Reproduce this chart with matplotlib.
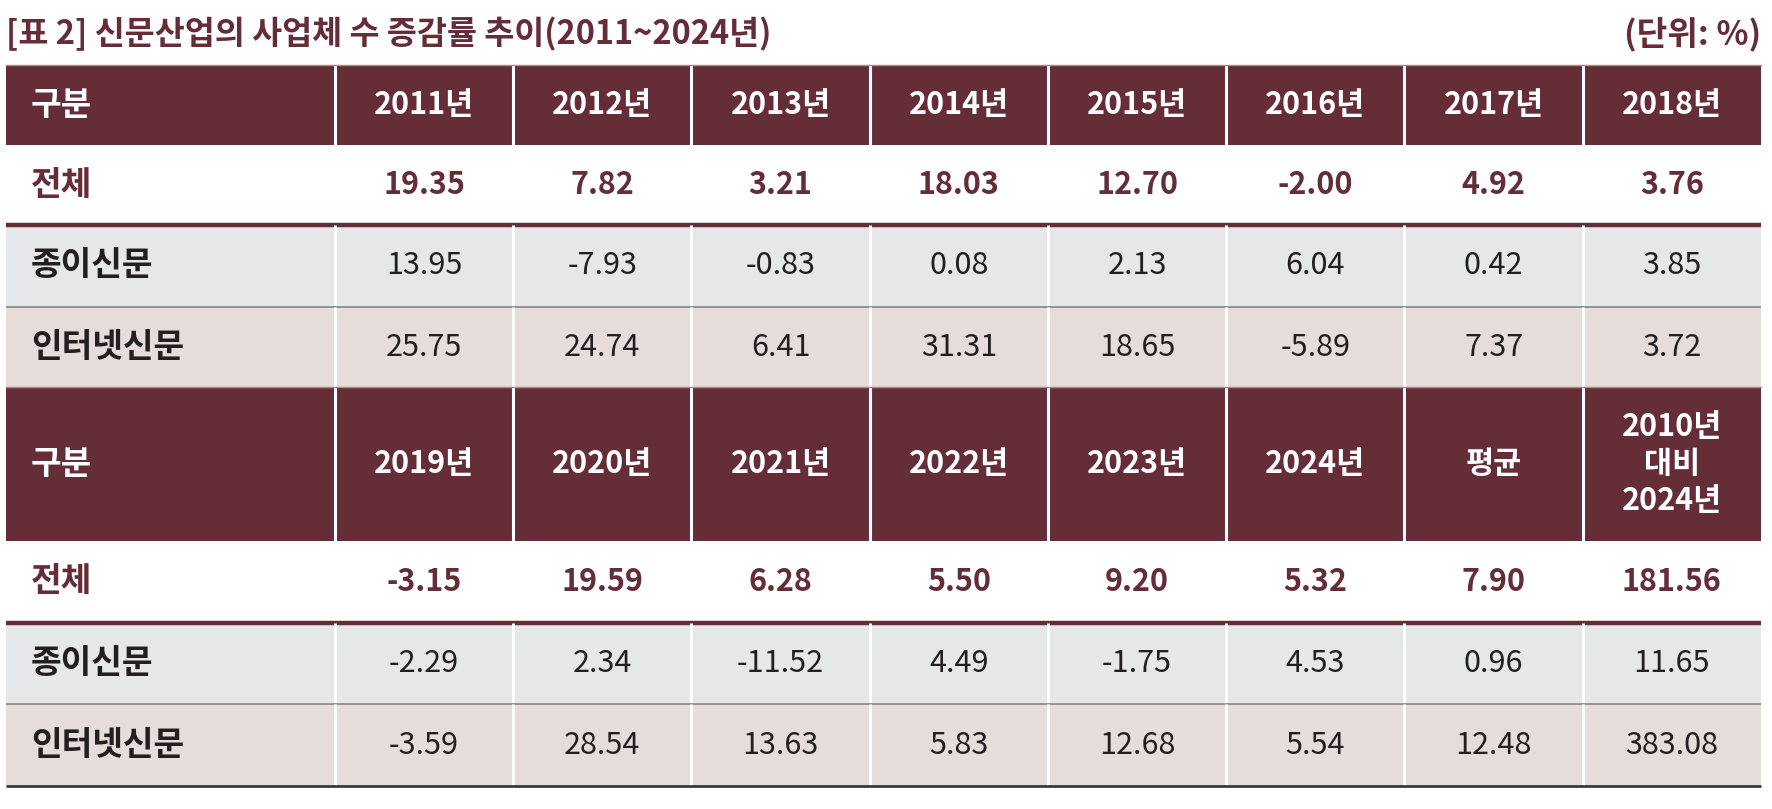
import matplotlib.pyplot as plt
from matplotlib.patches import Rectangle

plt.rcParams['font.family'] = ['Noto Sans CJK KR', 'DejaVu Sans']

title = "[표 2] 신문산업의 사업체 수 증감률 추이(2011~2024년)"
unit = "(단위: %)"
row_labels = ["전체", "종이신문", "인터넷신문"]

years1 = ["2011년", "2012년", "2013년", "2014년", "2015년", "2016년", "2017년", "2018년"]
total1 = [19.35, 7.82, 3.21, 18.03, 12.70, -2.00, 4.92, 3.76]
paper1 = [13.95, -7.93, -0.83, 0.08, 2.13, 6.04, 0.42, 3.85]
internet1 = [25.75, 24.74, 6.41, 31.31, 18.65, -5.89, 7.37, 3.72]

years2 = ["2019년", "2020년", "2021년", "2022년", "2023년", "2024년", "평균", "2010년\n대비\n2024년"]
total2 = [-3.15, 19.59, 6.28, 5.50, 9.20, 5.32, 7.90, 181.56]
paper2 = [-2.29, 2.34, -11.52, 4.49, -1.75, 4.53, 0.96, 11.65]
internet2 = [-3.59, 28.54, 13.63, 5.83, 12.68, 5.54, 12.48, 383.08]

MAROON = "#652d38"
GRAY_BG = "#e6e7e9"
PINK_BG = "#e6dcda"
TEXT = "#231f20"
FS = 22      # values and years
FS_LAB = 24  # Korean row labels / title

W, H = 1772, 809
fig = plt.figure(figsize=(W / 100, H / 100), dpi=100)
ax = fig.add_axes([0, 0, 1, 1])
ax.set_xlim(0, W)
ax.set_ylim(H, 0)
ax.axis("off")

x_left, x_right = 6, 1761
x_first = 335
ncol = len(years1)
cw = (x_right - x_first) / ncol
edges = [x_first + i * cw for i in range(ncol + 1)]
centers = [x_first + (i + 0.5) * cw for i in range(ncol)]

ax.text(x_left, 34, title, fontsize=23.5, fontweight="bold", color=MAROON,
        ha="left", va="center")
ax.text(x_right, 34, unit, fontsize=FS_LAB, fontweight="bold", color=MAROON,
        ha="right", va="center")


def vlines(y0, y1):
    for e in edges[:-1]:
        ax.plot([e, e], [y0, y1], color="white", lw=2.2, solid_capstyle="butt")


def draw_block(top, hdr_h, row_hs, headers, rows, last=False):
    # header
    ax.add_patch(Rectangle((x_left, top), x_right - x_left, hdr_h, color=MAROON, lw=0))
    vlines(top, top + hdr_h)
    ax.plot([x_left, x_right], [top, top], color="#a88a90", lw=1.0)
    yc = top + hdr_h / 2
    ax.text(x_left + 25, yc, "구분", fontsize=FS_LAB, fontweight="bold", color="white",
            ha="left", va="center")
    for cx, h in zip(centers, headers):
        ax.text(cx, yc, h, fontsize=FS, fontweight="bold", color="white",
                ha="center", va="center", linespacing=1.2)

    y = top + hdr_h
    fills = ["white", GRAY_BG, PINK_BG]
    for i, (lab, vals) in enumerate(zip(row_labels, rows)):
        rh = row_hs[i]
        if fills[i] != "white":
            ax.add_patch(Rectangle((x_left, y), x_right - x_left, rh, color=fills[i], lw=0))
            vlines(y, y + rh)
        yc = y + rh / 2
        bold = i == 0
        col = MAROON if bold else TEXT
        ax.text(x_left + 25, yc, lab, fontsize=FS_LAB, fontweight="bold", color=col,
                ha="left", va="center")
        for cx, v in zip(centers, vals):
            ax.text(cx, yc, f"{v:.2f}", fontsize=FS,
                    fontweight="bold" if bold else "light", color=col,
                    ha="center", va="center")
        y += rh
        if i == 0:
            ax.plot([x_left, x_right], [y, y], color=MAROON, lw=3.2, solid_capstyle="butt")
        elif i == 1:
            ax.plot([x_left, x_right], [y, y], color="#7d7d7d", lw=1.1, solid_capstyle="butt")
        elif last:
            ax.plot([x_left, x_right], [y, y], color="#3a3a3a", lw=2.0, solid_capstyle="butt")


draw_block(65, 80, [80, 82, 80], years1, [total1, paper1, internet1])
draw_block(387, 154, [82, 81, 82], years2, [total2, paper2, internet2], last=True)

fig.savefig("out.png", dpi=100)
